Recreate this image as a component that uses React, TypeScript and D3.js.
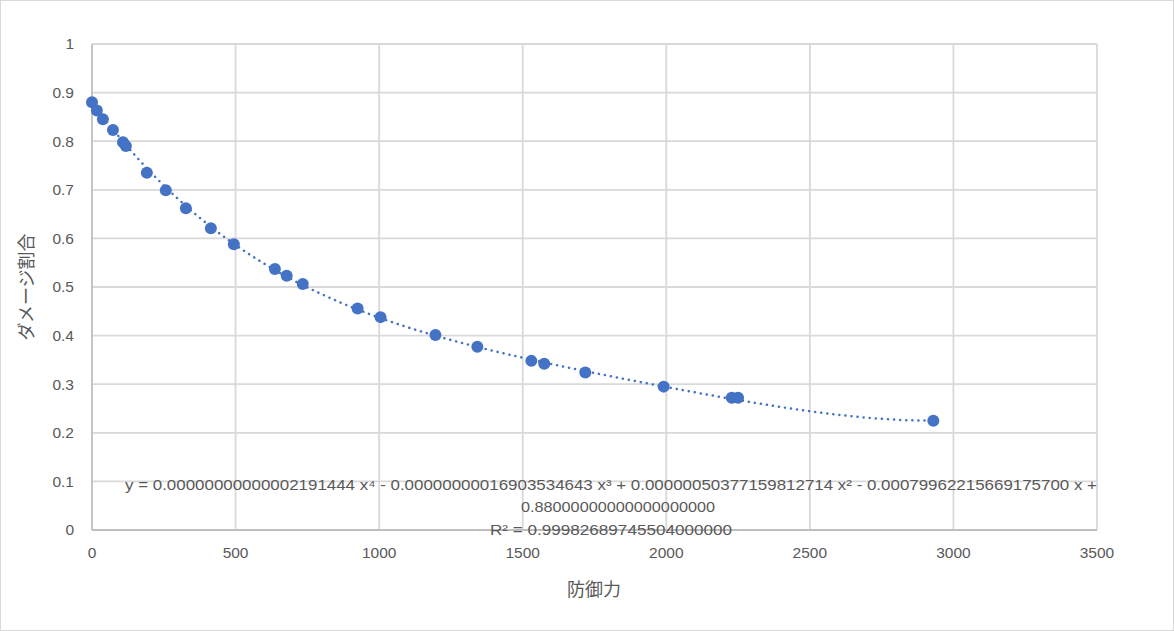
import React from "react";
import * as d3 from "d3";

const defense = [0, 17, 38, 73, 108, 118, 191, 257, 327, 414, 494, 637, 678, 734, 925, 1005, 1196, 1342, 1530, 1575, 1718, 1991, 2228, 2250, 2930];
const damageRatio = [0.88, 0.863, 0.845, 0.823, 0.798, 0.79, 0.735, 0.699, 0.662, 0.621, 0.588, 0.537, 0.523, 0.506, 0.456, 0.438, 0.401, 0.377, 0.348, 0.342, 0.324, 0.295, 0.272, 0.272, 0.225];
const coeffs = [0.88, -0.000799622156691757, 0.00000050377159812714, -0.00000000016903534643, 0.00000000000002191444];
const xTicks = [0, 500, 1000, 1500, 2000, 2500, 3000, 3500];
const yTicks = [0, 0.1, 0.2, 0.3, 0.4, 0.5, 0.6, 0.7, 0.8, 0.9, 1];
const eqLine1 = "y = 0.00000000000002191444 x⁴ - 0.00000000016903534643 x³ + 0.00000050377159812714 x² - 0.00079962215669175700 x +";
const eqLine2 = "0.88000000000000000000";
const eqLine3 = "R² = 0.99982689745504000000";

const W = 1174, H = 631;
const font = "'Liberation Sans Narrow', 'Liberation Sans', 'Noto Sans CJK JP', sans-serif";

export default function App() {
  const x = d3.scaleLinear().domain([0, 3500]).range([92, 1097]);
  const y = d3.scaleLinear().domain([0, 1]).range([530, 44]);
  const poly = (v: number) => coeffs.reduce((s, c, i) => s + c * Math.pow(v, i), 0);
  const xs = d3.range(0, 2930 + 1, 10);
  const line = d3.line<number>().x((d) => x(d)).y((d) => y(poly(d)));
  return (
    <div style={{ position: "fixed", left: 0, top: 0 }}>
      <svg width={W} height={H} style={{ display: "block", fontFamily: font }}>
        <rect x={0.5} y={0.5} width={W - 1} height={H - 1} fill="#fff" stroke="#d9d9d9" />
        {xTicks.slice(1).map((t) => (
          <line key={"gx" + t} x1={x(t)} x2={x(t)} y1={y(0)} y2={y(1)} stroke="#d9d9d9" strokeWidth={1.8} />
        ))}
        {yTicks.slice(1).map((t) => (
          <line key={"gy" + t} x1={x(0)} x2={x(3500)} y1={y(t)} y2={y(t)} stroke="#d9d9d9" strokeWidth={1.8} />
        ))}
        <line x1={x(0)} x2={x(3500)} y1={y(0)} y2={y(0)} stroke="#bfbfbf" strokeWidth={1.8} />
        <line x1={x(0)} x2={x(0)} y1={y(0)} y2={y(1)} stroke="#bfbfbf" strokeWidth={1.8} />
        {yTicks.map((t) => (
          <text key={"ty" + t} x={74} y={y(t)} dy="0.35em" textAnchor="end" fontSize={15.5} fill="#595959">
            {d3.format("~g")(t)}
          </text>
        ))}
        {xTicks.map((t) => (
          <text key={"tx" + t} x={x(t)} y={553} dy="0.35em" textAnchor="middle" fontSize={15.5} fill="#595959">
            {t}
          </text>
        ))}
        <text x={594} y={590} dy="0.35em" textAnchor="middle" fontSize={18} fill="#595959">防御力</text>
        <text transform="translate(27,287) rotate(-90)" dy="0.35em" textAnchor="middle" fontSize={18} fill="#595959">ダメージ割合</text>
        <path d={line(xs) || ""} fill="none" stroke="#4472C4" strokeWidth={2.5} strokeDasharray="0.1 6" strokeLinecap="round" />
        {defense.map((d, i) => (
          <circle key={"p" + i} cx={x(d)} cy={y(damageRatio[i])} r={6} fill="#4472C4" />
        ))}
        <text x={611} y={485} dy="0.35em" textAnchor="middle" fontSize={15} fill="#595959" textLength={972} lengthAdjust="spacingAndGlyphs">{eqLine1}</text>
        <text x={618} y={507} dy="0.35em" textAnchor="middle" fontSize={15} fill="#595959" textLength={194} lengthAdjust="spacingAndGlyphs">{eqLine2}</text>
        <text x={611} y={530} dy="0.35em" textAnchor="middle" fontSize={15} fill="#595959" textLength={242} lengthAdjust="spacingAndGlyphs">{eqLine3}</text>
      </svg>
    </div>
  );
}
